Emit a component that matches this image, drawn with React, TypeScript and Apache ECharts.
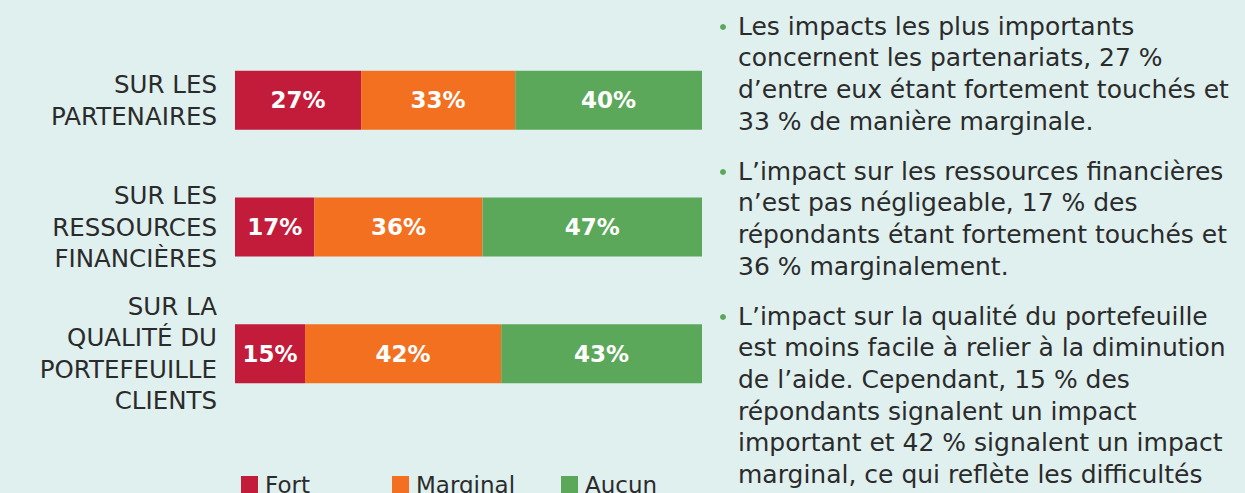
import React, { useEffect, useRef } from "react";
import * as echarts from "echarts";

const categories = [
  "SUR LES\nPARTENAIRES",
  "SUR LES\nRESSOURCES\nFINANCIÈRES",
  "SUR LA\nQUALITÉ DU\nPORTEFEUILLE\nCLIENTS",
];
const seriesNames = ["Fort", "Marginal", "Aucun"];
const fort = [27, 17, 15];
const marginal = [33, 36, 42];
const aucun = [40, 47, 43];
const colors = ["#c21c3a", "#f37021", "#5ca85a"];

const paragraphs = [
  [
    "Les impacts les plus importants",
    "concernent les partenariats, 27 %",
    "d’entre eux étant fortement touchés et",
    "33 % de manière marginale.",
  ],
  [
    "L’impact sur les ressources financières",
    "n’est pas négligeable, 17 % des",
    "répondants étant fortement touchés et",
    "36 % marginalement.",
  ],
  [
    "L’impact sur la qualité du portefeuille",
    "est moins facile à relier à la diminution",
    "de l’aide. Cependant, 15 % des",
    "répondants signalent un impact",
    "important et 42 % signalent un impact",
    "marginal, ce qui reflète les difficultés",
  ],
];

const FONT = "'DejaVu Sans', sans-serif";

export default function App() {
  const ref = useRef<HTMLDivElement>(null);
  useEffect(() => {
    document.body.style.margin = "0";
    const chart = echarts.init(ref.current!, null, { renderer: "svg" });

    const graphics: any[] = [];
    const paraStarts = [26, 171, 316];
    const lineH = 31.7;
    paragraphs.forEach((lines, pi) => {
      graphics.push({
        type: "circle",
        shape: { cx: 723, cy: paraStarts[pi] + 1, r: 3 },
        style: { fill: "#5ca85a" },
      });
      lines.forEach((ln, li) => {
        graphics.push({
          type: "text",
          x: 738,
          y: paraStarts[pi] + li * lineH,
          style: {
            text: ln,
            font: `25px ${FONT}`,
            fill: "#2b2b2b",
            textVerticalAlign: "middle",
            textAlign: "left",
          },
        });
      });
    });

    const legendLefts = [241, 392, 561];
    const dataSets = [fort, marginal, aucun];

    chart.setOption({
      animation: false,
      backgroundColor: "#dff0ef",
      grid: { left: 235, right: 543, top: 37, bottom: 76, containLabel: false },
      xAxis: { type: "value", min: 0, max: 100, show: false },
      yAxis: {
        type: "category",
        inverse: true,
        data: categories,
        axisLine: { show: false },
        axisTick: { show: false },
        axisLabel: {
          margin: 18,
          fontFamily: FONT,
          fontSize: 24.5,
          lineHeight: 31.5,
          color: "#2b2b2b",
          align: "right",
        },
      },
      legend: seriesNames.map((n, i) => ({
        data: [n],
        left: legendLefts[i],
        top: 473,
        padding: 0,
        itemWidth: 17,
        itemHeight: 17,
        icon: "rect",
        textStyle: { fontFamily: FONT, fontSize: 23, color: "#2b2b2b", padding: [0, 0, 0, 2] },
      })),
      series: seriesNames.map((n, i) => ({
        name: n,
        type: "bar",
        stack: "total",
        barWidth: 59,
        data: dataSets[i],
        itemStyle: { color: colors[i] },
        label: {
          show: true,
          position: "inside",
          formatter: "{c}%",
          color: "#ffffff",
          fontFamily: FONT,
          fontSize: 23,
          fontWeight: "bold",
        },
      })),
      graphic: graphics,
    });
    return () => chart.dispose();
  }, []);
  return <div ref={ref} style={{ width: 1245, height: 493 }} />;
}
